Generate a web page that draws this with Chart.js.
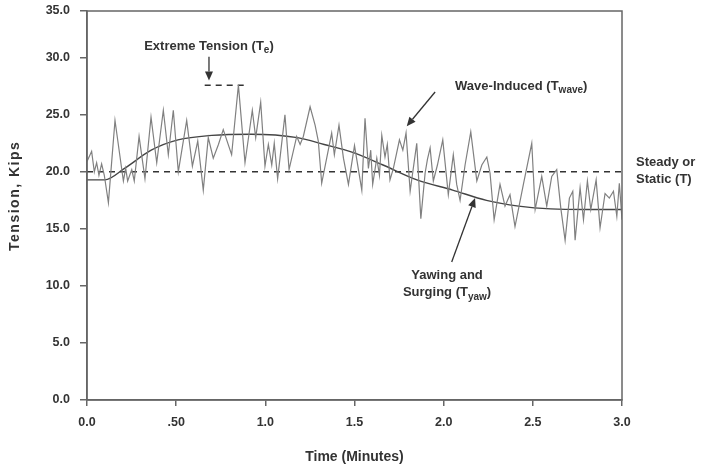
<!DOCTYPE html>
<html>
<head>
<meta charset="utf-8">
<script src="https://cdn.jsdelivr.net/npm/chart.js@4"></script>
<style>
    html, body { margin: 0; padding: 0; background: #fff; }
    canvas { display: block; }
</style>
</head>
<body>
<canvas id="tensionChart" width="702" height="466"></canvas>
<script>
// Wave-induced tension record (minutes, kips)
const waveTime = [0.000,0.026,0.041,0.054,0.067,0.082,0.097,0.120,0.157,0.204,
    0.217,0.228,0.251,0.265,0.292,0.325,0.359,0.391,0.428,0.456,
    0.484,0.512,0.559,0.591,0.621,0.652,0.680,0.708,0.737,0.764,
    0.811,0.849,0.886,0.927,0.946,0.974,0.998,1.017,1.036,1.050,
    1.069,1.110,1.133,1.176,1.195,1.213,1.251,1.279,1.297,1.316,
    1.372,1.387,1.413,1.438,1.466,1.500,1.541,1.559,1.578,1.591,
    1.602,1.625,1.640,1.653,1.671,1.684,1.699,1.718,1.752,1.771,
    1.789,1.812,1.849,1.872,1.896,1.909,1.924,1.942,1.965,1.995,
    2.026,2.054,2.073,2.092,2.120,2.152,2.186,2.214,2.242,2.260,
    2.283,2.316,2.344,2.372,2.400,2.447,2.494,2.513,2.550,2.578,
    2.606,2.634,2.657,2.681,2.705,2.724,2.737,2.765,2.784,2.806,
    2.825,2.855,2.877,2.905,2.929,2.952,2.971,2.985,3.000];
const waveTension = [20.9,21.8,20.0,20.8,19.7,20.7,19.7,17.3,24.5,19.2,
    20.3,19.2,20.2,19.2,23.1,19.4,24.8,20.8,25.4,21.5,
    25.4,20.0,24.5,20.5,22.7,18.4,23.0,21.2,22.4,23.7,
    21.5,27.6,20.8,25.4,23.0,26.1,20.5,22.4,20.6,22.5,
    19.4,25.0,20.2,23.1,22.4,23.1,25.7,24.1,22.7,19.0,
    23.4,21.5,24.1,21.2,18.9,22.3,18.4,24.7,20.3,21.9,
    18.9,21.2,19.7,23.2,21.3,22.4,19.3,20.3,22.8,21.9,
    23.4,18.3,22.5,15.9,19.9,21.1,22.1,19.2,20.6,22.8,
    18.0,21.5,18.9,17.5,20.6,23.5,19.2,20.6,21.3,19.9,
    15.8,18.9,17.0,18.0,15.2,18.9,22.5,16.7,19.6,17.0,
    19.6,20.2,16.8,14.0,17.7,18.3,14.0,18.6,15.8,19.2,
    16.7,19.3,15.1,18.1,17.7,18.3,16.1,19.0,15.8];

// Yawing and surging component
const yawTime = [0, 0.10, 0.21, 0.36, 0.51, 0.70, 0.92, 1.18, 1.33, 1.49, 1.66, 1.85, 2.05, 2.24, 2.42, 2.60, 2.80, 3.00];
const yawTension = [19.3, 19.3, 20.3, 21.9, 22.8, 23.2, 23.3, 23.0, 22.4, 21.7, 20.6, 19.3, 18.4, 17.5, 17.0, 16.75, 16.7, 16.7];

// Steady tension and extreme tension marker
const steadyTime = [0, 3.0];
const steadyTension = [20.0, 20.0];
const extremeTime = [0.66, 0.89];
const extremeTension = [27.6, 27.6];

// Axis ticks
const xTickValues = [0, 0.5, 1.0, 1.5, 2.0, 2.5, 3.0];
const xTickLabels = ['0.0', '.50', '1.0', '1.5', '2.0', '2.5', '3.0'];
const yTop = 34.1;
const yTickValues = [0, 5, 10, 15, 20, 25, 30, yTop];
const yTickLabels = ['0.0', '5.0', '10.0', '15.0', '20.0', '25.0', '30.0', '35.0'];

const FONT = "'Liberation Sans', Arial, sans-serif";
const INK = '#333';

function toPoints(xs, ys) {
    return xs.map((x, i) => ({ x: x, y: ys[i] }));
}

// Text with a subscript part, e.g. T + "wave"
function drawParts(ctx, parts, x, y, align) {
    const big = 'bold 13px ' + FONT;
    const small = 'bold 10px ' + FONT;
    let total = 0;
    parts.forEach(p => {
        ctx.font = p[1] ? small : big;
        total += ctx.measureText(p[0]).width;
    });
    let cx = align === 'center' ? x - total / 2 : x;
    ctx.textAlign = 'left';
    ctx.textBaseline = 'middle';
    parts.forEach(p => {
        ctx.font = p[1] ? small : big;
        ctx.fillText(p[0], cx, p[1] ? y + 4 : y);
        cx += ctx.measureText(p[0]).width;
    });
}

function drawArrow(ctx, x1, y1, x2, y2) {
    const ang = Math.atan2(y2 - y1, x2 - x1);
    const len = 9, wid = 4;
    ctx.beginPath();
    ctx.moveTo(x1, y1);
    ctx.lineTo(x2 - Math.cos(ang) * len, y2 - Math.sin(ang) * len);
    ctx.stroke();
    ctx.beginPath();
    ctx.moveTo(x2, y2);
    ctx.lineTo(x2 - Math.cos(ang) * len - Math.sin(ang) * wid, y2 - Math.sin(ang) * len + Math.cos(ang) * wid);
    ctx.lineTo(x2 - Math.cos(ang) * len + Math.sin(ang) * wid, y2 - Math.sin(ang) * len - Math.cos(ang) * wid);
    ctx.closePath();
    ctx.fill();
}

// Frame, labels and arrows
const annotate = {
    id: 'annotate',
    afterDraw(chart) {
        const { ctx, chartArea: a } = chart;
        const px = v => chart.scales.x.getPixelForValue(v);
        const py = v => chart.scales.y.getPixelForValue(v);
        ctx.save();
        ctx.strokeStyle = '#666';
        ctx.lineWidth = 1.5;
        ctx.strokeRect(a.left, a.top, a.right - a.left, a.bottom - a.top);

        // y axis title
        ctx.save();
        ctx.translate(15, py(17.9));
        ctx.rotate(-Math.PI / 2);
        ctx.font = 'bold 14px ' + FONT;
        ctx.letterSpacing = '1.5px';
        ctx.fillStyle = INK;
        ctx.textAlign = 'center';
        ctx.textBaseline = 'middle';
        ctx.fillText('Tension, Kips', 0, 0);
        ctx.restore();

        ctx.fillStyle = INK;
        ctx.strokeStyle = INK;
        ctx.lineWidth = 1.3;

        drawParts(ctx, [['Extreme Tension (T'], ['e', 1], [')']], px(0.684), py(31.0), 'center');
        drawArrow(ctx, px(0.684), py(30.1), px(0.684), py(28.0));

        drawParts(ctx, [['Wave-Induced (T'], ['wave', 1], [')']], px(2.064), py(27.5), 'left');
        drawArrow(ctx, px(1.952), py(27.0), px(1.793), py(24.0));

        drawParts(ctx, [['Steady or']], px(3.079), py(20.8), 'left');
        drawParts(ctx, [['Static (T)']], px(3.079), py(19.3), 'left');

        drawParts(ctx, [['Yawing and']], px(2.019), py(10.96), 'center');
        drawParts(ctx, [['Surging (T'], ['yaw', 1], [')']], px(2.019), py(9.4), 'center');
        drawArrow(ctx, px(2.045), py(12.1), px(2.176), py(17.7));
        ctx.restore();
    }
};

new Chart(document.getElementById('tensionChart'), {
    type: 'line',
    data: {
        datasets: [
            {
                label: 'Wave-Induced',
                data: toPoints(waveTime, waveTension),
                borderColor: '#808080',
                borderWidth: 1.2,
                pointRadius: 0,
                tension: 0
            },
            {
                label: 'Yawing and Surging',
                data: toPoints(yawTime, yawTension),
                borderColor: '#444',
                borderWidth: 1.4,
                pointRadius: 0,
                cubicInterpolationMode: 'monotone'
            },
            {
                label: 'Steady',
                data: toPoints(steadyTime, steadyTension),
                borderColor: '#333',
                borderWidth: 1.5,
                borderDash: [6, 5],
                pointRadius: 0
            },
            {
                label: 'Extreme',
                data: toPoints(extremeTime, extremeTension),
                borderColor: '#333',
                borderWidth: 1.5,
                borderDash: [6, 5],
                pointRadius: 0
            }
        ]
    },
    options: {
        responsive: false,
        animation: false,
        layout: { padding: { left: 0, right: 80, top: 11, bottom: 0 } },
        plugins: {
            legend: { display: false },
            tooltip: { enabled: false }
        },
        scales: {
            x: {
                type: 'linear',
                min: 0,
                max: 3,
                afterBuildTicks: axis => { axis.ticks = xTickValues.map(v => ({ value: v })); },
                afterFit: axis => { axis.height = 66; },
                grid: { drawOnChartArea: false, tickLength: 6, color: '#666', lineWidth: 1.5 },
                border: { color: '#666', width: 1.5 },
                ticks: {
                    color: INK,
                    padding: 9,
                    font: { family: FONT, size: 12.5, weight: 'bold' },
                    callback: (value, index) => xTickLabels[index]
                },
                title: {
                    display: true,
                    text: 'Time (Minutes)',
                    color: INK,
                    font: { family: FONT, size: 14, weight: 'bold' },
                    padding: { top: 0, bottom: 0 }
                }
            },
            y: {
                min: 0,
                max: yTop,
                afterBuildTicks: axis => { axis.ticks = yTickValues.map(v => ({ value: v })); },
                afterFit: axis => {
                    axis.width = 87;
                    axis.paddingTop = 0;
                    axis.paddingBottom = 0;
                },
                grid: { drawOnChartArea: false, tickLength: 7, color: '#666', lineWidth: 1.5 },
                border: { color: '#666', width: 1.5 },
                ticks: {
                    color: INK,
                    padding: 10,
                    font: { family: FONT, size: 12.5, weight: 'bold' },
                    callback: (value, index) => yTickLabels[index]
                }
            }
        }
    },
    plugins: [annotate]
});
</script>
</body>
</html>
